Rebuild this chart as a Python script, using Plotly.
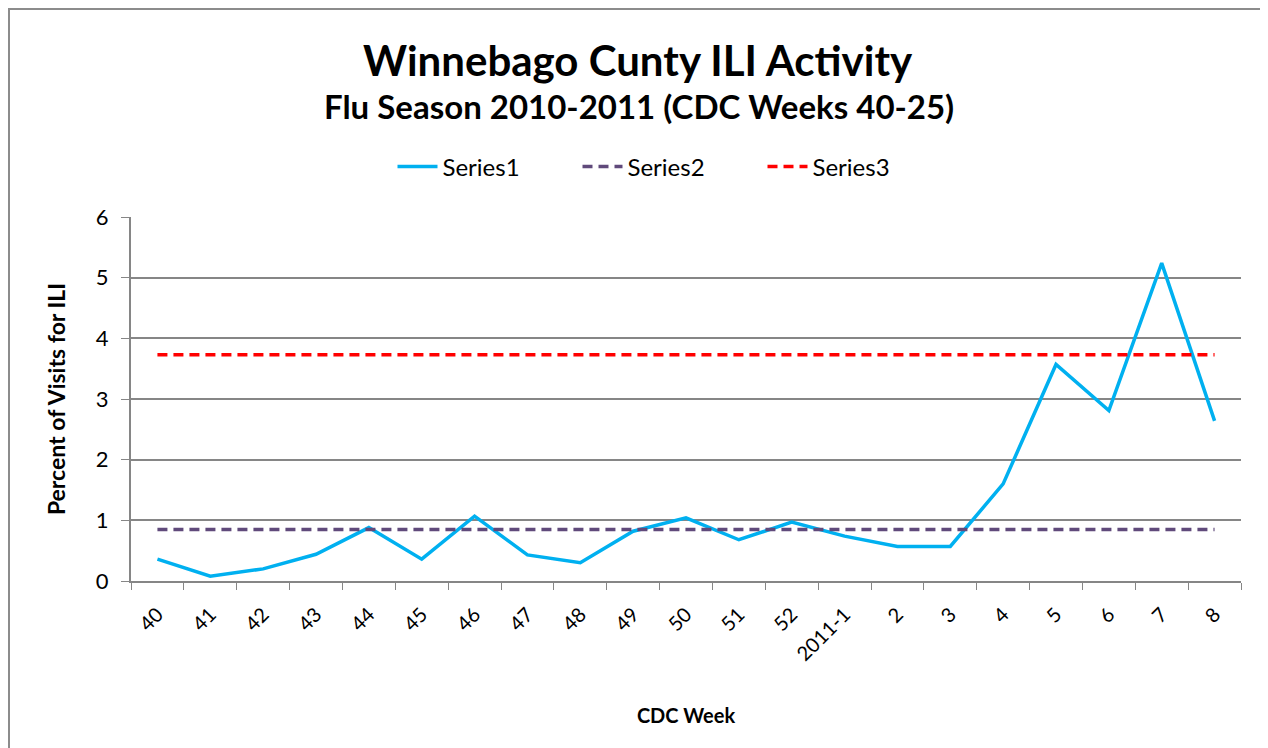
import plotly.graph_objects as go

weeks = ["40", "41", "42", "43", "44", "45", "46", "47", "48", "49", "50", "51", "52",
         "2011-1", "2", "3", "4", "5", "6", "7", "8"]
series1 = [0.36, 0.08, 0.20, 0.44, 0.88, 0.36, 1.07, 0.43, 0.30, 0.82, 1.04, 0.68, 0.97,
           0.74, 0.57, 0.57, 1.60, 3.57, 2.81, 5.24, 2.64]
series2 = [0.85] * len(weeks)
series3 = [3.73] * len(weeks)

FONT = "Lato"
OFF = 8  # page body margin
W, H = 1268, 748
ML, MT = 131 - OFF, 217 - OFF
MR = W - (1241 - OFF)
MB = H - (581 - OFF)
pw = W - ML - MR
ph = H - MT - MB

fig = go.Figure()
fig.add_trace(go.Scatter(x=weeks, y=series1, name="Series1", mode="lines",
                         line=dict(color="#00B0F0", width=3.5)))
fig.add_trace(go.Scatter(x=weeks, y=series2, name="Series2", mode="lines",
                         line=dict(color="#604A7B", width=3.5, dash="10px,6px")))
fig.add_trace(go.Scatter(x=weeks, y=series3, name="Series3", mode="lines",
                         line=dict(color="#FF0000", width=3.5, dash="10px,6px")))

def px_x(p):
    return (p - OFF - ML) / pw

def px_y(p):
    return (H - MB - (p - OFF)) / ph

fig.update_layout(
    width=W, height=H,
    margin=dict(l=ML, r=MR, t=MT, b=MB),
    paper_bgcolor="white", plot_bgcolor="white",
    font=dict(family=FONT, color="black"),
    showlegend=True,
    legend=dict(orientation="h", x=px_x(670), xanchor="center", y=px_y(167), yanchor="middle",
                font=dict(size=24, family=FONT), traceorder="normal",
                itemwidth=40, entrywidth=130, entrywidthmode="pixels",
                bgcolor="rgba(0,0,0,0)"),
    xaxis=dict(type="category", range=[-0.5, len(weeks) - 0.5], tickangle=-45,
               tickson="boundaries", ticks="outside", ticklen=7, tickcolor="#868686",
               showline=True, linecolor="#868686", linewidth=2, showgrid=False,
               ticklabelstandoff=12,
               tickfont=dict(size=20, family=FONT),
               title=dict(text="<b>CDC Week</b>", font=dict(size=20, family=FONT), standoff=45)),
    yaxis=dict(range=[0, 6], dtick=1, ticks="outside", ticklen=8, tickcolor="#868686",
               showline=True, linecolor="#868686", linewidth=2,
               showgrid=True, gridcolor="#868686", gridwidth=1.5, zeroline=False,
               ticklabelstandoff=8,
               tickfont=dict(size=22, family=FONT),
               title=dict(text="<b>Percent of Visits for ILI</b>", font=dict(size=23, family=FONT),
                          standoff=24)),
    annotations=[
        dict(text="<b>Winnebago Cunty ILI Activity</b>", xref="paper", yref="paper",
             x=px_x(638), y=px_y(60), xanchor="center", yanchor="middle", showarrow=False,
             font=dict(size=42, family=FONT)),
        dict(text="<b>Flu Season 2010-2011 (CDC Weeks 40-25)</b>", xref="paper", yref="paper",
             x=px_x(639), y=px_y(106), xanchor="center", yanchor="middle", showarrow=False,
             font=dict(size=33, family=FONT)),
    ],
    shapes=[dict(type="rect", xref="paper", yref="paper",
                 x0=px_x(OFF + 1), x1=px_x(1300), y0=px_y(800), y1=px_y(OFF + 1),
                 line=dict(color="#8C8C8C", width=2), layer="below")],
)

fig.write_html("out.html")
